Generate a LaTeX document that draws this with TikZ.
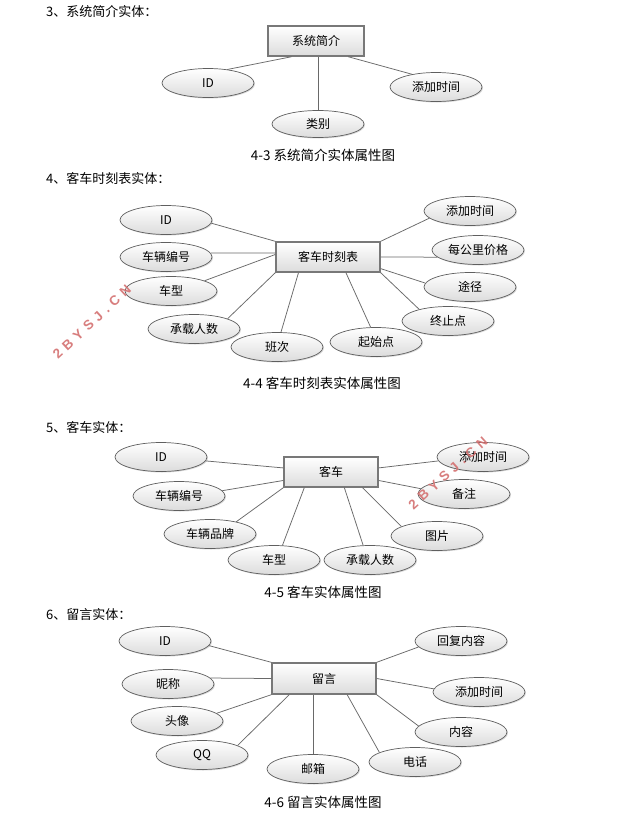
\documentclass[tikz,border=0pt]{standalone}
\usepackage{fontspec}
\newfontfamily\cjk{Noto Sans CJK SC}
\newfontfamily\wmfont{Liberation Sans}
\usetikzlibrary{calc,shapes.geometric,shadows}
\definecolor{edgegray}{RGB}{95,95,95}
\definecolor{boxgray}{RGB}{120,120,120}
\definecolor{linkgray}{RGB}{105,105,105}
\definecolor{shadegray}{RGB}{220,220,220}
\definecolor{wmred}{RGB}{212,112,112}
\begin{document}
\begin{tikzpicture}[x=1pt,y=-1pt,
  attr/.style={ellipse, draw=edgegray, line width=0.7pt, top color=white, bottom color=shadegray,
    minimum width=92pt, minimum height=29pt, inner sep=0pt, font=\cjk\fontsize{12}{14}\selectfont,
    drop shadow={shadow xshift=1pt, shadow yshift=-1pt, fill=black!30, opacity=0.5}},
  ent/.style={rectangle, draw=boxgray, line width=1.4pt, top color=white, bottom color=shadegray,
    minimum height=30pt, inner sep=0pt, font=\cjk\fontsize{12}{14}\selectfont,
    drop shadow={shadow xshift=1pt, shadow yshift=-1pt, fill=black!30, opacity=0.5}},
  link/.style={draw=linkgray, line width=0.75pt},
  headtxt/.style={anchor=west, inner sep=0pt, font=\cjk\fontsize{13}{15}\selectfont},
  captxt/.style={inner sep=0pt, font=\cjk\fontsize{13.5}{15}\selectfont},
  wmtxt/.style={inner sep=0pt, text=wmred, opacity=0.9, font=\wmfont\bfseries\fontsize{13.5}{13.5}\selectfont}]
\fill[white] (0,0) rectangle (625,814);
\useasboundingbox (0,0) rectangle (625,814);

% ---------- section 3
\node[headtxt] (h3) at (46,12) {3、系统简介实体：};
\node[ent, minimum width=96pt] (s3) at (316,41) {系统简介};
\node[attr] (s3id) at (208,83) {ID};
\node[attr] (s3time) at (436,87) {添加时间};
\node[attr, minimum height=27pt] (s3type) at (318,124) {类别};
\draw[link] (s3id.35) -- ($(s3.south west)!0.25!(s3.south east)$);
\draw[link] (s3type.north) -- ($(s3.south west)!(s3type.north)!(s3.south east)$);
\draw[link] (s3time.152) -- ($(s3.south west)!0.83!(s3.south east)$);
\node[captxt] (c3) at (323,155) {4-3 系统简介实体属性图};

% ---------- section 4
\node[headtxt] (h4) at (46,178) {4、客车时刻表实体：};
\node[ent, minimum width=104pt] (s4) at (328,257) {客车时刻表};
\node[attr] (s4id) at (166,220) {ID};
\node[attr] (s4no) at (166,257) {车辆编号};
\node[attr] (s4model) at (171,291) {车型};
\node[attr] (s4cap) at (194,329) {承载人数};
\node[attr] (s4shift) at (277,347) {班次};
\node[attr] (s4start) at (376,342) {起始点};
\node[attr] (s4end) at (448,321) {终止点};
\node[attr] (s4via) at (470,287) {途径};
\node[attr] (s4price) at (478,250) {每公里价格};
\node[attr] (s4time) at (470,211) {添加时间};
\draw[link] (s4id.-4) -- (s4.north west);
\draw[link] (s4no.5) -- ($(s4.north west)!0.37!(s4.south west)$);
\draw[link] (s4model.17) -- ($(s4.north west)!0.42!(s4.south west)$);
\draw[link] (s4cap.17) -- (s4.south west);
\draw[link] (s4shift.75) -- ($(s4.south west)!0.22!(s4.south east)$);
\draw[link] (s4start.110) -- ($(s4.south west)!0.67!(s4.south east)$);
\draw[link] (s4end.158) -- (s4.south east);
\draw[link] (s4via.175) -- ($(s4.north east)!0.87!(s4.south east)$);
\draw[link] (s4price.190) -- (s4.east);
\draw[link] (s4time.190) -- (s4.north east);
\node[captxt] (c4) at (322,383) {4-4 客车时刻表实体属性图};

% ---------- section 5
\node[headtxt] (h5) at (46,427) {5、客车实体：};
\node[ent, minimum width=94pt] (s5) at (331,472) {客车};
\node[attr] (s5id) at (161,457) {ID};
\node[attr] (s5no) at (179,496) {车辆编号};
\node[attr] (s5brand) at (210,534) {车辆品牌};
\node[attr] (s5model) at (274,560) {车型};
\node[attr] (s5cap) at (370,560) {承载人数};
\node[attr] (s5pic) at (437,536) {图片};
\node[attr] (s5note) at (464,494) {备注};
\node[attr] (s5time) at (483,457) {添加时间};
\draw[link] (s5id.-5) -- ($(s5.north west)!0.37!(s5.south west)$);
\draw[link] (s5no.7) -- ($(s5.north west)!0.77!(s5.south west)$);
\draw[link] (s5brand.25) -- (s5.south west);
\draw[link] (s5model.60) -- ($(s5.south west)!0.22!(s5.south east)$);
\draw[link] (s5cap.115) -- ($(s5.south west)!0.64!(s5.south east)$);
\draw[link] (s5pic.165) -- ($(s5.south west)!0.83!(s5.south east)$);
\draw[link] (s5note.173) -- ($(s5.north east)!0.77!(s5.south east)$);
\draw[link] (s5time.185) -- ($(s5.north east)!0.37!(s5.south east)$);
\node[captxt] (c5) at (323,592) {4-5 客车实体属性图};

% ---------- section 6
\node[headtxt] (h6) at (46,615) {6、留言实体：};
\node[ent, minimum width=104pt, minimum height=31pt] (s6) at (324,678.5) {留言};
\node[attr] (s6id) at (165,641) {ID};
\node[attr] (s6nick) at (168,684) {昵称};
\node[attr] (s6avatar) at (177,721) {头像};
\node[attr] (s6qq) at (202,755) {QQ};
\node[attr] (s6mail) at (313,769) {邮箱};
\node[attr] (s6tel) at (415,762) {电话};
\node[attr] (s6content) at (461,732) {内容};
\node[attr] (s6time) at (479,692) {添加时间};
\node[attr] (s6reply) at (461,641) {回复内容};
\draw[link] (s6id.-6) -- (s6.north west);
\draw[link] (s6nick.8) -- (s6.west);
\draw[link] (s6avatar.11) -- (s6.south west);
\draw[link] (s6qq.15) -- ($(s6.south west)!0.17!(s6.south east)$);
\draw[link] (s6mail.north) -- ($(s6.south west)!(s6mail.north)!(s6.south east)$);
\draw[link] (s6tel.165) -- ($(s6.south west)!0.72!(s6.south east)$);
\draw[link] (s6content.172) -- (s6.south east);
\draw[link] (s6time.176) -- (s6.east);
\draw[link] (s6reply.188) -- (s6.north east);
\node[captxt] (c6) at (323,802) {4-6 留言实体属性图};

% ---------- watermarks
\node[wmtxt, rotate=43] (wm1) at (92,322) {2\kern5pt B\kern5pt Y\kern5pt S\kern5pt J\kern5pt .\kern5pt C\kern5pt N};
\node[wmtxt, rotate=42] (wm2) at (448,473) {2\kern5pt B\kern5pt Y\kern5pt S\kern5pt J\kern5pt .\kern5pt C\kern5pt N};
\end{tikzpicture}
\end{document}
